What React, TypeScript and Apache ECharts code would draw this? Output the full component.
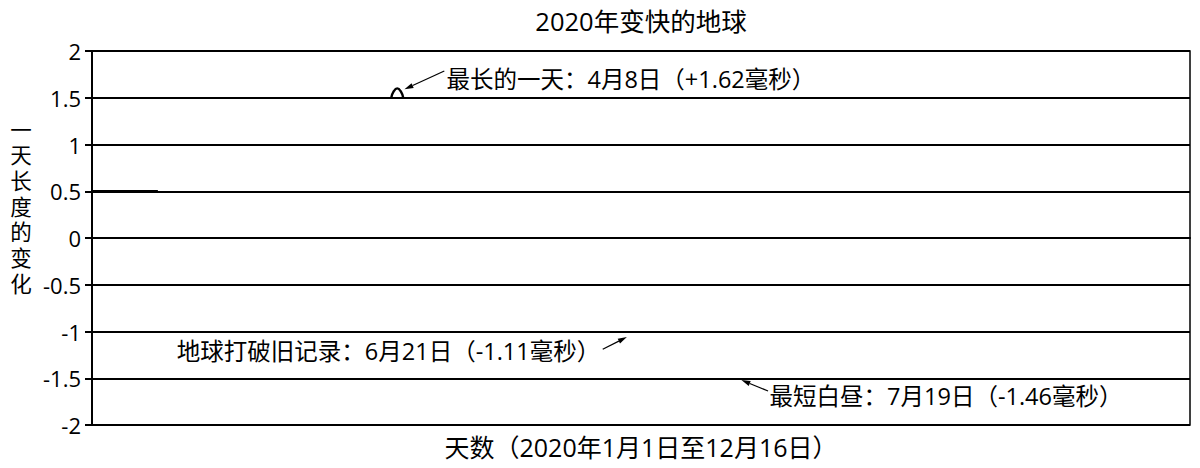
import React, { useEffect, useRef } from 'react';
import * as echarts from 'echarts';

const chartTitle = '2020年变快的地球';
const yAxisName = '一天长度的变化';
const xAxisName = '天数（2020年1月1日至12月16日）';
const dayMax = 350;
const yMin = -2;
const yMax = 2;
const yStep = 0.5;

// series (day index from Jan 1, change of day length in ms); null breaks the line
const lineDays = [0, 21, 22, 95.4, 96.2, 97.3, 98.4, 99.2];
const lineValues: (number | null)[] = [0.5, 0.5, null, 1.5, 1.57, 1.6, 1.57, 1.5];

// annotations
const noteTexts = [
  '最长的一天：4月8日（+1.62毫秒）',
  '地球打破旧记录：6月21日（-1.11毫秒）',
  '最短白昼：7月19日（-1.46毫秒）',
];
const noteTextDays = [113, 162, 216];
const noteTextValues = [1.7, -1.21, -1.685];
const noteAligns = ['left', 'right', 'left'];
const arrowTailDays = [112.3, 162.8, 215.5];
const arrowTailValues = [1.786, -1.19, -1.636];
const arrowHeadDays = [99.6, 170.5, 207];
const arrowHeadValues = [1.59, -1.06, -1.52];

const FONT = '"Open Sans", "Noto Sans CJK SC", sans-serif';

export default function App() {
  const ref = useRef<HTMLDivElement>(null);
  useEffect(() => {
    if (!ref.current) return;
    const chart = echarts.init(ref.current, null, { renderer: 'svg' });
    const data = lineDays.map((d, i) => [d, lineValues[i] === null ? '-' : lineValues[i]]);
    chart.setOption({
      animation: false,
      backgroundColor: '#fff',
      textStyle: { fontFamily: FONT },
      grid: {
        left: 92,
        right: 10,
        top: 51,
        bottom: 43,
        show: true,
        borderColor: '#000',
        borderWidth: 1.5,
      },
      xAxis: {
        type: 'value',
        min: 0,
        max: dayMax,
        name: xAxisName,
        nameLocation: 'middle',
        nameGap: 9,
        nameTextStyle: { fontFamily: FONT, fontSize: 25, color: '#000' },
        axisLine: { show: true, lineStyle: { color: '#000', width: 2 } },
        axisTick: { show: false },
        axisLabel: { show: false },
        splitLine: { show: false },
      },
      yAxis: {
        type: 'value',
        min: yMin,
        max: yMax,
        interval: yStep,
        axisLine: { show: true, lineStyle: { color: '#000', width: 2 } },
        axisTick: { show: true, length: 7, lineStyle: { color: '#000', width: 2 } },
        axisLabel: { fontFamily: FONT, fontSize: 22, color: '#000', margin: 11 },
        splitLine: { show: true, lineStyle: { color: '#000', width: 2 } },
      },
      series: [
        {
          type: 'line',
          data,
          smooth: 0.5,
          connectNulls: false,
          showSymbol: false,
          symbol: 'none',
          lineStyle: { color: '#000', width: 2.4 },
        },
      ],
    });

    const graphics: any[] = [];
    const topLeft = chart.convertToPixel({ gridIndex: 0 }, [0, yMax]) as number[];
    const topRight = chart.convertToPixel({ gridIndex: 0 }, [dayMax, yMax]) as number[];
    graphics.push({
      type: 'text',
      x: (topLeft[0] + topRight[0]) / 2,
      y: 21,
      style: {
        text: chartTitle,
        fontFamily: FONT,
        fontSize: 25.5,
        fill: '#000',
        textAlign: 'center',
        textVerticalAlign: 'middle',
      },
    });
    yAxisName.split('').forEach((ch, i) => {
      graphics.push({
        type: 'text',
        x: 21,
        y: 129 + i * 25.7,
        style: {
          text: ch,
          fontFamily: FONT,
          fontSize: 21.5,
          fill: '#000',
          textAlign: 'center',
          textVerticalAlign: 'middle',
        },
      });
    });
    noteTexts.forEach((t, i) => {
      const p = chart.convertToPixel({ gridIndex: 0 }, [noteTextDays[i], noteTextValues[i]]) as number[];
      graphics.push({
        type: 'text',
        x: p[0],
        y: p[1],
        style: {
          text: t,
          fontFamily: FONT,
          fontSize: 23.5,
          fill: '#000',
          textAlign: noteAligns[i],
          textVerticalAlign: 'middle',
        },
      });
      const a = chart.convertToPixel({ gridIndex: 0 }, [arrowTailDays[i], arrowTailValues[i]]) as number[];
      const b = chart.convertToPixel({ gridIndex: 0 }, [arrowHeadDays[i], arrowHeadValues[i]]) as number[];
      const dx = b[0] - a[0];
      const dy = b[1] - a[1];
      const len = Math.sqrt(dx * dx + dy * dy);
      const ux = dx / len;
      const uy = dy / len;
      const hl = 9;
      const hw = 2.6;
      const bx = b[0] - ux * hl;
      const by = b[1] - uy * hl;
      graphics.push({
        type: 'line',
        shape: { x1: a[0], y1: a[1], x2: bx, y2: by },
        style: { stroke: '#000', lineWidth: 1.2 },
      });
      graphics.push({
        type: 'polygon',
        shape: {
          points: [
            [b[0], b[1]],
            [bx - uy * hw, by + ux * hw],
            [bx + uy * hw, by - ux * hw],
          ],
        },
        style: { fill: '#000' },
      });
    });
    chart.setOption({ graphic: graphics });
    return () => chart.dispose();
  }, []);
  return (
    <div
      ref={ref}
      style={{ position: 'fixed', left: 0, top: 0, width: 1200, height: 468, background: '#fff' }}
    />
  );
}
